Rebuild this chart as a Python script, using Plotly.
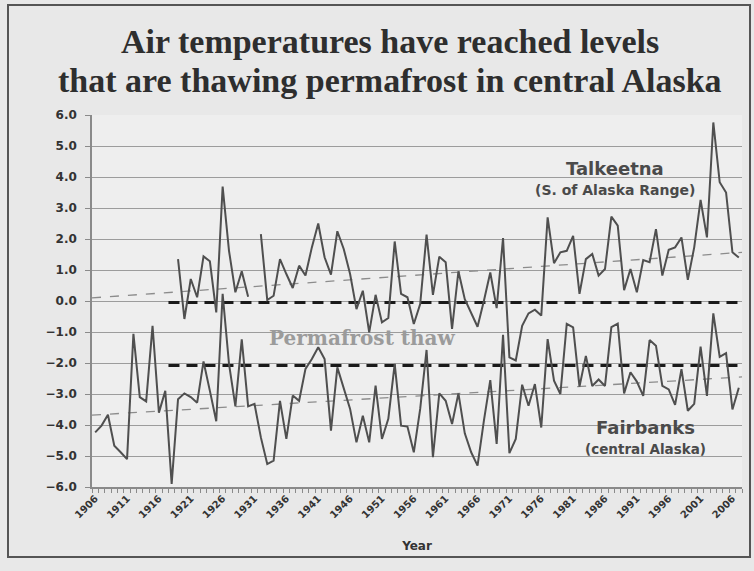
import plotly.graph_objects as go

# annual mean air temperature, deg C
years = list(range(1906, 2008))

fairbanks = [
    -4.24, -4.02, -3.67, -4.67, -4.88, -5.10, -1.06, -3.10, -3.24, -0.80,
    -3.60, -2.90, -5.90, -3.17, -2.98, -3.10, -3.28, -1.95, -2.90, -3.88,
    0.23, -2.03, -3.40, -1.24, -3.40, -3.32, -4.40, -5.26, -5.15, -3.22,
    -4.45, -3.05, -3.22, -2.19, -1.87, -1.49, -1.87, -4.18, -2.14, -2.78,
    -3.48, -4.56, -3.70, -4.56, -2.73, -4.45, -3.80, -2.03, -4.02, -4.05,
    -4.88, -3.48, -1.58, -5.04, -2.98, -3.22, -3.97, -2.98, -4.27, -4.88,
    -5.31, -3.86, -2.55, -4.61, -1.09, -4.91, -4.45, -2.70, -3.38, -2.68,
    -4.08, -1.23, -2.57, -3.00, -0.74, -0.85, -2.76, -1.77, -2.74, -2.53,
    -2.74, -0.84, -0.73, -2.98, -2.30, -2.60, -3.06, -1.26, -1.44, -2.74,
    -2.85, -3.35, -2.20, -3.54, -3.32, -1.47, -3.06, -0.40, -1.80, -1.68,
    -3.50, -2.80,
]

talkeetna = [None] * 13 + [
    1.35, -0.58, 0.71, 0.12, 1.44, 1.28, -0.37, 3.69, 1.62, 0.28,
    0.96, 0.14, None, 2.16, 0.03, 0.17, 1.35, 0.87, 0.42, 1.14,
    0.82, 1.73, 2.50, 1.41, 0.85, 2.25, 1.68, 0.87, -0.26, 0.33,
    -1.01, 0.20, -0.69, -0.55, 1.92, 0.23, 0.12, -0.74, -0.10, 2.14,
    0.20, 1.43, 1.25, -0.90, 0.96, 0.06, -0.37, -0.83, 0.01, 0.92,
    -0.23, 2.03, -1.82, -1.92, -0.80, -0.40, -0.28, -0.47, 2.70, 1.22,
    1.57, 1.62, 2.10, 0.23, 1.35, 1.52, 0.82, 1.03, 2.72, 2.43,
    0.35, 1.03, 0.28, 1.32, 1.25, 2.32, 0.82, 1.65, 1.73, 2.05,
    0.68, 1.73, 3.26, 2.05, 5.76, 3.83, 3.50, 1.57, 1.40,
]

# linear trends and thaw thresholds (start / end values)
trend_x = [1905.5, 2007.5]
talkeetna_trend = [0.10, 1.57]
fairbanks_trend = [-3.68, -2.45]
thaw_x = [1917.5, 2007.5]
talkeetna_thaw = [-0.05, -0.05]
fairbanks_thaw = [-2.08, -2.08]

x_ticks = list(range(1906, 2007, 5))
y_ticks = [v for v in range(-6, 7)]

LINE = "#4f4f4f"
TEXT = "#333333"

fig = go.Figure()

for trend in (talkeetna_trend, fairbanks_trend):
    fig.add_trace(go.Scatter(
        x=trend_x, y=trend, mode="lines",
        line={"color": "#8c8c8c", "width": 1.3, "dash": "dash"},
        hoverinfo="skip",
    ))

for thaw in (talkeetna_thaw, fairbanks_thaw):
    fig.add_trace(go.Scatter(
        x=thaw_x, y=thaw, mode="lines",
        line={"color": "#1a1a1a", "width": 3, "dash": "11px,7px"},
        hoverinfo="skip",
    ))

fig.add_trace(go.Scatter(
    x=years, y=talkeetna, mode="lines", name="Talkeetna",
    line={"color": LINE, "width": 2}, connectgaps=False,
))
fig.add_trace(go.Scatter(
    x=years, y=fairbanks, mode="lines", name="Fairbanks",
    line={"color": LINE, "width": 2},
))

W, H = 754, 571
L, R, T, B = 92, 12, 115, 84
PW, PH = W - L - R, H - T - B


def px_x(x):
    return (x - L) / PW


def px_y(y):
    return (H - B - y) / PH


fig.update_layout(
    width=W,
    height=H,
    showlegend=False,
    paper_bgcolor="#e8e8e8",
    plot_bgcolor="#eeeeee",
    margin={"l": L, "r": R, "t": T, "b": B},
    xaxis={
        "range": [1905.5, 2007.5],
        "tickmode": "array",
        "tickvals": x_ticks,
        "ticktext": [str(v) for v in x_ticks],
        "tickangle": -45,
        "ticks": "",
        "showgrid": False,
        "zeroline": False,
        "showline": True,
        "linecolor": "#8a8a8a",
        "linewidth": 1.5,
        "tickfont": {"family": "DejaVu Sans", "size": 10, "color": TEXT, "weight": "bold"},
        "minor": {"ticks": "outside", "tick0": 1905.5, "dtick": 1, "ticklen": 4,
                  "tickcolor": "#8a8a8a", "showgrid": False},
        "title": {"text": "Year", "standoff": 22,
                  "font": {"family": "DejaVu Sans", "size": 12, "color": TEXT, "weight": "bold"}},
    },
    yaxis={
        "range": [-6, 6],
        "tickmode": "array",
        "tickvals": y_ticks,
        "tickformat": ".1f",
        "ticks": "outside",
        "ticklen": 5,
        "tickcolor": "#8a8a8a",
        "ticklabelstandoff": 6,
        "showgrid": True,
        "gridcolor": "#9c9c9c",
        "gridwidth": 1.2,
        "zeroline": False,
        "showline": True,
        "linecolor": "#8a8a8a",
        "linewidth": 1.5,
        "tickfont": {"family": "DejaVu Sans", "size": 12, "color": TEXT, "weight": "bold"},
    },
)

# title, two centred lines
title_font = {"family": "Liberation Serif", "size": 34, "color": "#2e2e2e", "weight": "bold"}
for text, y_px in (("Air temperatures have reached levels", 42),
                   ("that are thawing permafrost in central Alaska", 80)):
    fig.add_annotation(
        xref="paper", yref="paper", x=px_x(390), y=px_y(y_px), text=text,
        showarrow=False, xanchor="center", yanchor="middle", font=title_font,
    )

labels = [
    (1987.5, 4.27, "Talkeetna", 18, "DejaVu Sans", "#4a4a4a"),
    (1987.5, 3.59, "(S. of Alaska Range)", 14, "DejaVu Sans", "#4a4a4a"),
    (1992.4, -4.08, "Fairbanks", 18, "DejaVu Sans", "#4a4a4a"),
    (1992.4, -4.76, "(central Alaska)", 13.5, "DejaVu Sans", "#4a4a4a"),
    (1947.9, -1.18, "Permafrost thaw", 20, "DejaVu Serif", "#9b9b9b"),
]
for x_val, y_val, text, size, family, color in labels:
    fig.add_annotation(
        x=x_val, y=y_val, text=text, showarrow=False,
        xanchor="center", yanchor="middle",
        font={"family": family, "size": size, "color": color, "weight": "bold"},
    )

# outer frame of the slide
fig.add_shape(
    type="rect", xref="paper", yref="paper",
    x0=px_x(8), x1=px_x(750), y0=px_y(557), y1=px_y(5),
    line={"color": "#555555", "width": 2}, fillcolor="rgba(0,0,0,0)", layer="below",
)

fig.write_html(
    "out.html",
    config={"displayModeBar": False},
    post_script="document.body.style.margin = '0px';",
)
